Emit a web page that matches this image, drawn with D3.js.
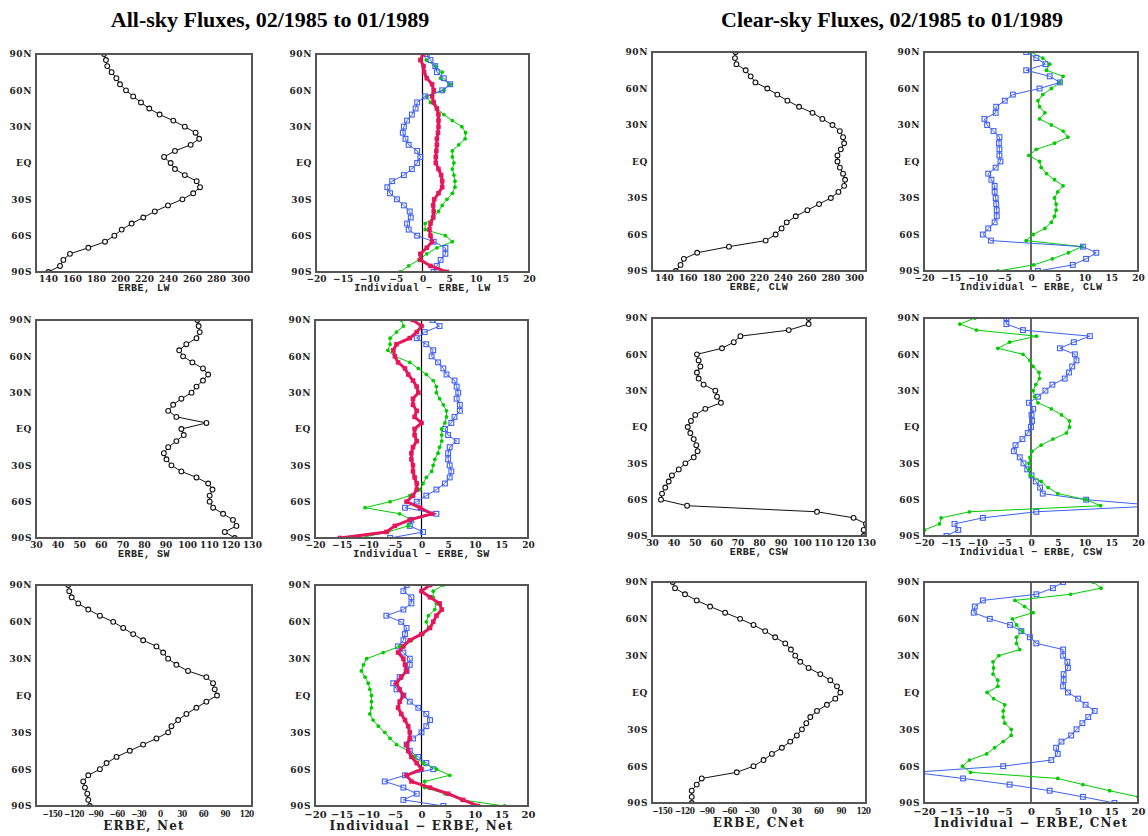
<!DOCTYPE html>
<html><head><meta charset="utf-8">
<script src="https://cdn.jsdelivr.net/npm/d3@7"></script>
<style>body{margin:0;background:#fff}</style>
</head><body><svg id="c" width="1148" height="836"></svg>
<script>
// latitude categories (deg)
const lats=[90,85,80,75,70,65,60,55,50,45,40,35,30,25,20,15,10,5,0,-5,-10,-15,-20,-25,-30,-35,-40,-45,-50,-55,-60,-65,-70,-75,-80,-85,-90];
const latTicks=[90,60,30,0,-30,-60,-90];
const latLabels=["90N","60N","30N","EQ","30S","60S","90S"];
const lwTicks=[140,160,180,200,220,240,260,280,300];
const swTicks=[30,40,50,60,70,80,90,100,110,120,130];
const netTicks=[-150,-120,-90,-60,-30,0,30,60,90,120];
const diffTicks=[-20,-15,-10,-5,0,5,10,15,20];

// All-sky
const erbeLW=[186.7,188.3,189.4,193,197,200,205,211,217.5,224.4,233,244.4,254,263,266,258.9,245.8,236.7,242.2,245.8,254,263.9,266.7,261,252,240,229,219.4,209.7,201.4,195.3,187.5,173.6,158.3,152.8,150,140.3];
const lwBlue=[0.8,1.5,2.4,2.7,4,5.2,3.7,0.5,-1.0,-1.3,-2,-2.9,-3.5,-3.7,-3.2,-2.6,-1.0,-0.4,-1.0,-2,-3.5,-5.7,-6.6,-6.1,-4.8,-3.5,-2.4,-2.2,-2.9,-2.6,-1.0,2.1,4.3,4.3,3.4,2.7,2.1];
const lwGreen=[0.2,0.7,2.4,3.7,3.4,5.2,4,0.8,1.5,2.7,4,5.6,7.4,8.1,8,6.8,5.6,5.6,5.9,5.6,5.9,6.1,6.1,5.6,4.6,3.7,3,2.1,0.5,0.5,4.3,5.6,2.7,0.8,-0.7,-2.6,-4.2];
const lwRed=[0.1,-0.4,0.2,0.3,0.8,1.8,2.1,1.8,2.1,2.7,3,3,3,2.9,2.7,2.7,2.6,2.5,2.5,3,3.5,3.7,3.7,3,2.2,2,2.1,2,1.5,1.3,1.5,1.8,0.8,-0.4,-0.4,1.5,4.6];
const erbeSW=[104.7,105.3,105.8,104.3,99.6,96.3,98.1,102.4,107.3,109.7,107.3,104.3,102,97.3,93.5,91.2,95,108.9,97.3,98.4,95,91.2,89.2,90.4,92.7,97.3,104.3,109.7,111.7,110.4,110.4,112,116.6,121.2,122.8,117.4,122];
const swBlue=[2.1,3.4,0.6,-0.9,0.9,2.2,1.9,3.1,4.1,4.7,6.2,6.6,6.9,6.6,7.2,7.2,6.2,5.6,4.4,5,6.6,5.3,5,5,5.3,5.6,5.3,4.4,2.8,0.9,-0.9,-3.1,2.8,-1.9,-2.2,0.3,-5.9];
const swGreen=[-3.8,-3.4,-4.7,-5.9,-5.9,-6.3,-5,-2.2,-0.6,0.9,2.2,2.8,2.8,3.4,4.1,4.7,4.7,4.4,3.8,3.8,3.8,3.4,3.1,2.5,2.2,1.9,0.9,0.3,-0.3,-2.2,-5.9,-10.6,-4.1,-1.9,-2.5,-6.3,-11.6];
const swRed=[-1.6,0,-0.9,-2.2,-4.7,-5.3,-5,-4.4,-3.1,-2.5,-1.6,-0.9,-0.6,-1.6,-1.6,-0.9,-1.3,0,-1.3,-1.3,-0.9,-1.6,-1.9,-1.9,-1.6,-1.6,-1.3,-0.9,-0.9,-1.6,-2.8,-0.3,1.9,-2.2,-5,-6.6,-15.3];
const erbeNet=[-127.2,-125.8,-122.5,-113.3,-99.4,-83.3,-64.8,-50.9,-37,-23.2,-4.7,4.6,11.5,23,39.2,64.6,73.9,76.2,79.4,64.6,50.8,36.9,25.4,16.1,11.5,-4.7,-23.2,-41.7,-60.1,-74,-83.3,-99.4,-106.4,-104,-100.8,-99.4,-97.1];
const netBlue=[-2.8,-3.4,-1.9,-1.9,-3.4,-6.6,-3.8,-2.8,-3.1,-3.4,-4.4,-3.4,-2.2,-2.2,-2.8,-4.1,-5.3,-4.7,-3.4,-2.2,-0.6,0.9,1.6,0.9,0,-1.6,-2.8,-2.2,-0.6,0.9,2.2,-3.1,-6.9,-3.4,-0.9,-3.4,4.1];
const netGreen=[4.1,2.2,2.2,2.8,2.5,1.3,0.9,1.3,0.3,-1.9,-4.1,-7.2,-10.3,-10.9,-11.3,-10.6,-10,-9.7,-9.4,-9.4,-9.4,-9.7,-9.1,-8.1,-6.9,-5.9,-4.7,-2.5,-1.3,0.3,2.8,5.3,0.6,0.6,4.4,7.5,15.6];
const netRed=[1.6,0,1.6,3.4,3.8,2.8,2.2,1.6,0,-2.2,-3.4,-4.4,-3.4,-3.1,-2.8,-3.8,-4.7,-4.1,-3.4,-4.1,-4.4,-3.8,-3.1,-2.5,-2.2,-2.2,-2.8,-2.5,-1.9,-0.9,0,-2.8,-1.9,1.6,5,7.8,10.6];

// Clear-sky
const erbeCLW=[200.3,199.8,201,208.8,213,217,227,235.4,243.9,253.7,265,273.3,281.8,288,290.7,291.6,288.8,286,286,288,290.7,292.4,291.6,286.8,280.4,270.5,260.7,250.9,243.3,239,234,225.6,194.7,168,156.8,154,150];
const clwBlue=[-0.9,1.0,2.7,-0.9,3.5,5.4,1.6,-3.4,-4.9,-6.5,-6.6,-8.7,-8.2,-7,-5.9,-6,-5.9,-5.9,-5.7,-6.6,-8,-7.4,-6.8,-6.8,-6.6,-6.5,-6.4,-6.4,-6.8,-8,-9,-7.5,9.7,12.2,10.3,7.8,1.3];
const clwGreen=[0,2.2,3.5,2.9,6,5.4,3.8,2.2,1.3,1.6,2.6,1.6,3.8,6,6.9,4.4,1.0,-0.4,1.6,1.9,2.9,4.4,6,5,4.4,4.7,4.7,4.4,3.8,2.6,0.4,-0.9,9.5,7,4,0.5,-6.2];
const erbeCSW=[103.2,103.2,93.9,71.3,68.2,62.7,51,51.8,52.6,51,51.8,54.1,59.6,60.4,62.2,54.9,50.2,48.2,46.7,47.9,49.5,50.7,51.3,49.5,45.6,42.5,39.3,37.8,36.2,34.7,34.2,46.4,107.1,124.2,130,128.9,128.9];
const cswBlue=[-4.6,-4.6,-1.5,11,8,5.4,8.2,8.5,7.7,7.1,6.3,4,2.7,1.3,-0.4,0.4,0.1,0.2,0,-0.6,-1.6,-2.9,-3.2,-2.1,-1.4,-0.7,0.1,0.9,1.7,2.2,10.3,24,1,-9,-14.3,-13.6,-15.8];
const cswGreen=[-10.5,-13.3,-10.2,1,-4,-6.2,-1.5,-0.2,0.4,1.5,1.6,0.9,0.4,0.7,1.3,3.8,5.7,7.2,7.2,6.6,4.1,1.9,0.2,-0.2,-0.4,-0.4,-0.1,1.9,3.2,5,10.3,13,-11.5,-16.8,-17.1,-19.9,-21];
const erbeCNet=[-135.2,-132.1,-118.7,-103,-85.1,-64.9,-44.8,-26.9,-11.2,2.2,15.7,23.3,29.1,35.8,47,62.7,76.1,85.1,89.6,82.8,71.6,58.2,49.3,43.9,38.1,31.3,22.4,11.2,-2.2,-13.4,-26.9,-49.3,-96.3,-103,-109.7,-109.7,-109.7];
const cnetBlue=[6,4.1,1.0,-9,-10.5,-10.7,-7.7,-3.9,-1.8,-0.2,1,6,6,6.8,6.9,6.1,6.1,6,6.9,8.8,10.2,11.9,10.7,9.6,8.5,7.5,5.7,4.7,5,3.8,-5.2,-22,-12.7,-4,3.5,9.7,15.6];
const cnetGreen=[11.6,13.1,7.4,-3,-1.2,0.4,-3.5,-2.7,-1.6,-2.7,-2.7,-2.1,-6,-7.1,-7,-7.1,-6.2,-6.2,-8.2,-7,-4.9,-5.2,-5.2,-4.9,-3.7,-3.7,-5.2,-6.8,-8.3,-11.5,-12.8,-11.3,5,9.7,14.7,20,21.6];

const COL={black:"#111",blue:"#3f5ff5",green:"#00cc00",red:"#e5175c"};
const svg=d3.select("#c");
const FONT="'DejaVu Serif', serif";
const CFONT="'DejaVu Serif Condensed','DejaVu Serif', serif";

const panels=[
 {box:[36,54,252,272],dom:[130,310],ticks:lwTicks,label:"ERBE, LW",big:false,series:[["black",erbeLW]]},
 {box:[316,54,529,272],dom:[-20,20],ticks:diffTicks,label:"Individual \u2212 ERBE, LW",big:false,zero:true,series:[["green",lwGreen],["blue",lwBlue],["red",lwRed]]},
 {box:[652,52,866,271],dom:[130,310],ticks:lwTicks,label:"ERBE, CLW",big:false,series:[["black",erbeCLW]]},
 {box:[924,52,1138,271],dom:[-20,20],ticks:diffTicks,label:"Individual \u2212 ERBE, CLW",big:false,zero:true,series:[["green",clwGreen],["blue",clwBlue]]},
 {box:[36,320,252,538],dom:[30,130],ticks:swTicks,label:"ERBE, SW",big:false,series:[["black",erbeSW]]},
 {box:[315,320,528,538],dom:[-20,20],ticks:diffTicks,label:"Individual \u2212 ERBE, SW",big:false,zero:true,series:[["blue",swBlue],["green",swGreen],["red",swRed]]},
 {box:[652,318,866,536],dom:[30,130],ticks:swTicks,label:"ERBE, CSW",big:false,series:[["black",erbeCSW]]},
 {box:[924,318,1138,536],dom:[-20,20],ticks:diffTicks,label:"Individual \u2212 ERBE, CSW",big:false,zero:true,series:[["blue",cswBlue],["green",cswGreen]]},
 {box:[36,585,252,806],dom:[-172,128],ticks:netTicks,label:"ERBE, Net",big:true,tight:true,series:[["black",erbeNet]]},
 {box:[315,585,528,806],dom:[-20,20],ticks:diffTicks,label:"Individual \u2212 ERBE, Net",big:true,zero:true,series:[["blue",netBlue],["green",netGreen],["red",netRed]]},
 {box:[652,582,866,803],dom:[-163,124],ticks:netTicks,label:"ERBE, CNet",big:true,tight:true,series:[["black",erbeCNet]]},
 {box:[924,582,1138,803],dom:[-20,20],ticks:diffTicks,label:"Individual \u2212 ERBE, CNet",big:true,zero:true,series:[["blue",cnetBlue],["green",cnetGreen]]}
];

const fmt=v=>(v<0?"\u2212":"")+Math.abs(v);

panels.forEach((p,i)=>{
  const [x0,y0,x1,y1]=p.box;
  const x=d3.scaleLinear().domain(p.dom).range([x0,x1]);
  const y=d3.scaleLinear().domain([-90,90]).range([y1,y0]);
  const g=svg.append("g");
  const cid="clip"+i;
  svg.append("clipPath").attr("id",cid).append("rect").attr("x",x0).attr("y",y0).attr("width",x1-x0).attr("height",y1-y0);
  const inner=g.append("g").attr("clip-path",`url(#${cid})`);
  if(p.zero){
    inner.append("line").attr("x1",x(0)).attr("x2",x(0)).attr("y1",y0).attr("y2",y1).attr("stroke","#000").attr("stroke-width",1.2);
  }
  p.series.forEach(([kind,vals])=>{
    const pts=vals.map((v,k)=>({v,lat:lats[k]}));
    const line=d3.line().x(d=>x(d.v)).y(d=>y(d.lat));
    const col=COL[kind];
    inner.append("path").datum(pts).attr("d",line).attr("fill","none").attr("stroke",col)
      .attr("stroke-width",kind==="red"?3:1);
    const m=inner.append("g");
    if(kind==="black"){
      m.selectAll("circle").data(pts).join("circle").attr("cx",d=>x(d.v)).attr("cy",d=>y(d.lat)).attr("r",2.4)
        .attr("fill","#fff").attr("stroke",col).attr("stroke-width",1.1);
    } else if(kind==="blue"){
      m.selectAll("rect").data(pts).join("rect").attr("x",d=>x(d.v)-2.4).attr("y",d=>y(d.lat)-2.4).attr("width",4.8).attr("height",4.8)
        .attr("fill","none").attr("stroke",col).attr("stroke-width",1.1);
    } else if(kind==="green"){
      m.selectAll("circle").data(pts).join("circle").attr("cx",d=>x(d.v)).attr("cy",d=>y(d.lat)).attr("r",1.9).attr("fill",col);
    } else {
      m.selectAll("rect").data(pts).join("rect").attr("x",d=>x(d.v)-2.3).attr("y",d=>y(d.lat)-2.3).attr("width",4.6).attr("height",4.6).attr("fill",col);
    }
  });
  g.append("rect").attr("x",x0).attr("y",y0).attr("width",x1-x0).attr("height",y1-y0)
    .attr("fill","none").attr("stroke","#555").attr("stroke-width",2);
  // axes
  const ax=g.append("g").attr("transform",`translate(0,${y1})`)
    .call(d3.axisBottom(x).tickValues(p.ticks).tickFormat(fmt).tickSize(0).tickPadding(p.big?5:4));
  ax.select(".domain").remove();
  ax.selectAll("text").attr("font-family",p.tight?CFONT:FONT).attr("font-stretch",p.tight?"condensed":"normal")
    .attr("font-weight","bold").attr("font-size",p.tight?8.3:(p.big?10:9))
    .attr("letter-spacing",p.tight?"-0.5px":"0px").attr("fill","#222");
  const ay=g.append("g").attr("transform",`translate(${x0},0)`)
    .call(d3.axisLeft(y).tickValues(latTicks).tickFormat((d,k)=>latLabels[k]).tickSize(0).tickPadding(4));
  ay.select(".domain").remove();
  ay.selectAll("text").attr("font-family",FONT).attr("font-weight","bold").attr("font-size",9).attr("letter-spacing","0.6px").attr("fill","#222");
  g.append("text").attr("x",(x0+x1)/2).attr("y",y1+(p.big?24:19)).attr("text-anchor","middle")
    .attr("font-family",p.big?FONT:"'Liberation Mono', monospace").attr("font-weight","bold")
    .attr("font-size",p.big?12:10).attr("letter-spacing",p.big?"1.2px":"0.5px").attr("fill","#222").text(p.label);
});

svg.append("text").attr("x",270).attr("y",27).attr("text-anchor","middle").attr("font-family","'Liberation Serif', serif")
  .attr("font-weight","bold").attr("font-size",22).text("All-sky Fluxes, 02/1985 to 01/1989");
svg.append("text").attr("x",892).attr("y",27).attr("text-anchor","middle").attr("font-family","'Liberation Serif', serif")
  .attr("font-weight","bold").attr("font-size",22).text("Clear-sky Fluxes, 02/1985 to 01/1989");
</script></body></html>
